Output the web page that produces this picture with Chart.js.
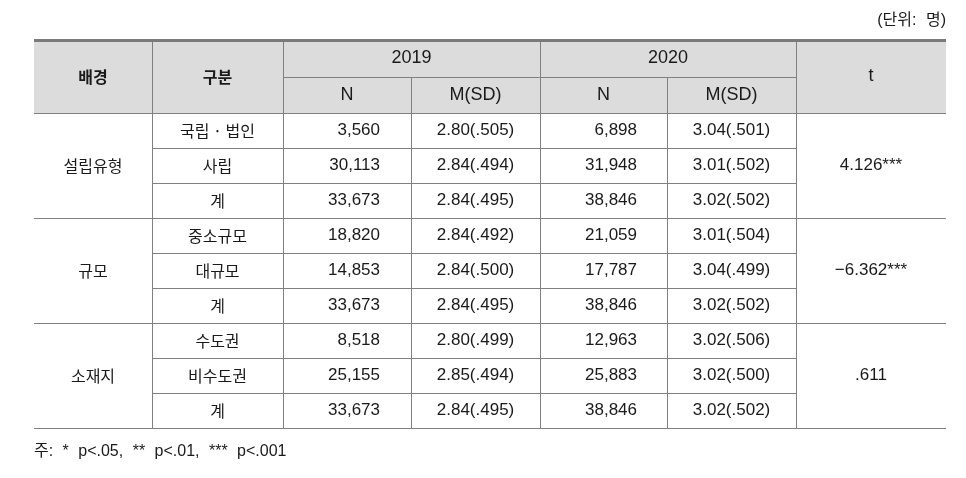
<!DOCTYPE html>
<html>
<head>
<meta charset="utf-8">
<script src="https://cdn.jsdelivr.net/npm/chart.js@4.4.1/dist/chart.umd.min.js"></script>
<style>
html,body{margin:0;padding:0;background:#fff;}
#wrap{width:966px;height:478px;}
</style>
</head>
<body>
<div id="wrap"><canvas id="c" width="966" height="478"></canvas></div>
<script>
// ---- data ----
const unitLabel = '(단위: 명)';
const footnote = '주: * p<.05, ** p<.01, *** p<.001';
const headerTop = ['배경', '구분', '2019', '2020', 't'];
const headerSub = ['N', 'M(SD)', 'N', 'M(SD)'];
const groups = ['설립유형', '규모', '소재지'];
const subcats = ['국립 · 법인', '사립', '계', '중소규모', '대규모', '계', '수도권', '비수도권', '계'];
const n2019 = [3560, 30113, 33673, 18820, 14853, 33673, 8518, 25155, 33673];
const m2019 = [2.80, 2.84, 2.84, 2.84, 2.84, 2.84, 2.80, 2.85, 2.84];
const sd2019 = [0.505, 0.494, 0.495, 0.492, 0.500, 0.495, 0.499, 0.494, 0.495];
const n2020 = [6898, 31948, 38846, 21059, 17787, 38846, 12963, 25883, 38846];
const m2020 = [3.04, 3.01, 3.02, 3.01, 3.04, 3.02, 3.02, 3.02, 3.02];
const sd2020 = [0.501, 0.502, 0.502, 0.504, 0.499, 0.502, 0.506, 0.500, 0.502];
const tValues = ['4.126***', '\u22126.362***', '.611'];

// ---- layout (scale units) ----
const colEdges = [0, 118, 249, 377, 506, 633, 762, 912];
const rowEdges = [0, 37, 73, 108, 143, 178, 213, 248, 283, 318, 353, 388];

const fmtN = v => v.toLocaleString('en-US');
const fmtM = (m, sd) => m.toFixed(2) + '(' + sd.toFixed(3).replace(/^0/, '') + ')';

const KR = '"Noto Sans CJK KR", "Noto Sans", sans-serif';
const NUM = '"Liberation Sans", "Noto Sans CJK KR", sans-serif';
const LINE = '#808080';
const TEXT = '#1a1a1a';

const tablePlugin = {
  id: 'tablePlugin',
  afterDraw(chart) {
    const ctx = chart.ctx;
    const xs = chart.scales.x, ys = chart.scales.y;
    const X = v => Math.round(xs.getPixelForValue(v));
    const Y = v => Math.round(ys.getPixelForValue(v));
    const x0 = X(colEdges[0]), x1 = X(colEdges[colEdges.length - 1]);
    ctx.save();
    // header background
    ctx.fillStyle = '#dcdcdc';
    ctx.fillRect(x0, Y(rowEdges[0]), x1 - x0, Y(rowEdges[2]) - Y(rowEdges[0]));

    const hline = (y, xa, xb) => {
      ctx.beginPath(); ctx.lineWidth = 1; ctx.strokeStyle = LINE;
      ctx.moveTo(xa, y + 0.5); ctx.lineTo(xb, y + 0.5); ctx.stroke();
    };
    const vline = (x, ya, yb) => {
      ctx.beginPath(); ctx.lineWidth = 1; ctx.strokeStyle = LINE;
      ctx.moveTo(x + 0.5, ya); ctx.lineTo(x + 0.5, yb); ctx.stroke();
    };
    // horizontal lines
    hline(Y(rowEdges[1]), X(colEdges[2]), X(colEdges[6]));
    hline(Y(rowEdges[2]), x0, x1);
    for (let r = 3; r < rowEdges.length - 1; r++) {
      const groupEnd = (r - 2) % 3 === 0;
      hline(Y(rowEdges[r]), groupEnd ? x0 : X(colEdges[1]), groupEnd ? x1 : X(colEdges[6]));
    }
    hline(Y(rowEdges[rowEdges.length - 1]), x0, x1);
    // vertical lines
    const yTop = Y(rowEdges[0]), yBot = Y(rowEdges[rowEdges.length - 1]);
    [1, 2, 4, 6].forEach(c => vline(X(colEdges[c]), yTop, yBot));
    [3, 5].forEach(c => vline(X(colEdges[c]), Y(rowEdges[1]), yBot));
    // top thick border
    ctx.fillStyle = '#7a7a7a';
    ctx.fillRect(x0, yTop - 1, x1 - x0, 3);

    const text = (s, x, y, align, font, ws) => {
      ctx.font = font; ctx.fillStyle = TEXT;
      ctx.wordSpacing = ws || '0px';
      ctx.textAlign = align; ctx.textBaseline = 'middle';
      ctx.fillText(s, x, y);
      ctx.wordSpacing = '0px';
    };
    const cx = c => (X(colEdges[c]) + X(colEdges[c + 1])) / 2;
    const cy = r => (Y(rowEdges[r]) + Y(rowEdges[r + 1])) / 2;
    const hFontK = 'bold 16px ' + KR;
    const hFontN = '18px ' + NUM;
    // header
    const midHead = (Y(rowEdges[0]) + Y(rowEdges[2])) / 2;
    text(headerTop[0], cx(0), midHead, 'center', hFontK);
    text(headerTop[1], cx(1), midHead, 'center', hFontK);
    text(headerTop[2], (X(colEdges[2]) + X(colEdges[4])) / 2, cy(0), 'center', hFontN);
    text(headerTop[3], (X(colEdges[4]) + X(colEdges[6])) / 2, cy(0), 'center', hFontN);
    text(headerTop[4], cx(6), midHead, 'center', hFontN);
    headerSub.forEach((h, i) => text(h, cx(2 + i), cy(1), 'center', hFontN));
    // body
    const bFontK = '16px ' + KR;
    const bFontN = '17px ' + NUM;
    for (let i = 0; i < subcats.length; i++) {
      const r = i + 2;
      text(subcats[i], cx(1), cy(r), 'center', bFontK);
      text(fmtN(n2019[i]), X(colEdges[3]) - 31, cy(r), 'right', bFontN);
      text(fmtM(m2019[i], sd2019[i]), cx(3), cy(r), 'center', bFontN);
      text(fmtN(n2020[i]), X(colEdges[5]) - 30, cy(r), 'right', bFontN);
      text(fmtM(m2020[i], sd2020[i]), cx(5), cy(r), 'center', bFontN);
    }
    groups.forEach((g, gi) => {
      const yc = (Y(rowEdges[2 + gi * 3]) + Y(rowEdges[5 + gi * 3])) / 2;
      text(g, cx(0), yc, 'center', bFontK);
      text(tValues[gi], cx(6), yc, 'center', bFontN);
    });
    // unit label and footnote
    text(unitLabel, x1, yTop - 19, 'right', '16px ' + NUM, '5px');
    text(footnote, x0, yBot + 24, 'left', '16px ' + NUM, '5px');
    ctx.restore();
  }
};

new Chart(document.getElementById('c'), {
  type: 'scatter',
  data: { datasets: [] },
  options: {
    responsive: false,
    animation: false,
    devicePixelRatio: 1,
    layout: { padding: { left: 34, right: 20, top: 40, bottom: 50 } },
    plugins: { legend: { display: false }, tooltip: { enabled: false } },
    scales: {
      x: { type: 'linear', display: false, min: colEdges[0], max: colEdges[colEdges.length - 1] },
      y: { type: 'linear', display: false, min: rowEdges[0], max: rowEdges[rowEdges.length - 1], reverse: true }
    }
  },
  plugins: [tablePlugin]
});
</script>
</body>
</html>
